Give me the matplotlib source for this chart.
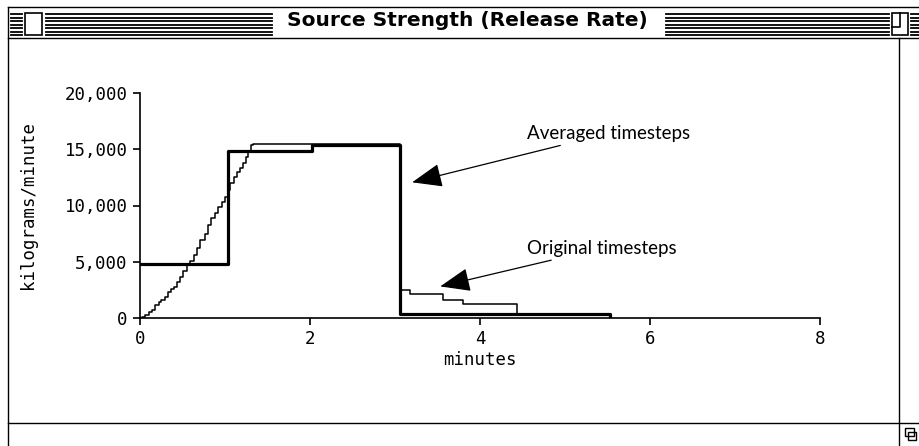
import matplotlib.pyplot as plt
from matplotlib.patches import Rectangle

# averaged timesteps (minutes, kilograms/minute), drawn as steps
avg_t = [0, 1.03, 2.02, 3.06, 5.53]
avg_v = [4800, 14850, 15400, 400, 0]

# original timesteps
orig_t = [0.00, 0.02, 0.06, 0.10, 0.14, 0.18, 0.22, 0.25, 0.29, 0.33, 0.37,
          0.40, 0.43, 0.47, 0.51, 0.55, 0.59, 0.63, 0.67, 0.71, 0.76, 0.80,
          0.84, 0.88, 0.92, 0.96, 1.00, 1.03, 1.06, 1.10, 1.14, 1.18, 1.21,
          1.25, 1.27, 1.30, 1.33, 3.06, 3.18, 3.56, 3.80, 4.44, 5.53]
orig_v = [0, 60, 270, 500, 710, 1160, 1400, 1600, 1900, 2340, 2600,
          2780, 3230, 3670, 4150, 4710, 5100, 5600, 6200, 6900, 7500, 8300,
          8860, 9300, 9900, 10340, 10780, 11380, 11970, 12560, 13000, 13300, 13750,
          14340, 14780, 15380, 15500, 2500, 2100, 1600, 1250, 400, 0]

x_ticks = [0, 2, 4, 6, 8]
y_ticks = [0, 5000, 10000, 15000, 20000]
y_labels = ['0', '5,000', '10,000', '15,000', '20,000']

W, H = 920, 446
fig = plt.figure(figsize=(W / 100, H / 100), dpi=100)

# window frame drawn in pixel coordinates
bg = fig.add_axes([0, 0, 1, 1], zorder=-1)
bg.set_xlim(0, W)
bg.set_ylim(H, 0)
bg.axis('off')

k = dict(color='black', lw=1.0)
bg.plot([8, W], [7, 7], **k)
bg.plot([8, 8], [7, H], **k)
bg.plot([8, W], [38, 38], **k)
bg.plot([899, 899], [38, H], **k)
bg.plot([8, W], [423, 423], **k)

# title bar stripes
for y in [14, 17.5, 21, 24.5, 28, 31.5, 35]:
    bg.plot([11, 22], [y, y], color='black', lw=1.3)
    bg.plot([46, 272], [y, y], color='black', lw=1.3)
    bg.plot([666, 889], [y, y], color='black', lw=1.3)
    bg.plot([911, W], [y, y], color='black', lw=1.3)
bg.add_patch(Rectangle((25, 13), 17, 22, fc='white', lw=1.2, ec='black'))
bg.add_patch(Rectangle((892, 13), 16, 22, fc='white', lw=1.2, ec='black'))
bg.plot([892, 900, 900], [27, 27, 13], color='black', lw=1.2)
bg.text(467, 21, 'Source Strength (Release Rate)', ha='center', va='center',
        fontsize=14.5, fontweight='bold', family='DejaVu Sans')

# grow box
bg.add_patch(Rectangle((905, 428), 9, 8, fill=False, lw=1.0, ec='black'))
bg.add_patch(Rectangle((908, 432), 8, 8, fill=False, lw=1.0, ec='black'))

ax = fig.add_axes([140 / W, 1 - 318 / H, 680 / W, 225 / H])
ax.patch.set_alpha(0)
ax.step(orig_t, orig_v, where='post', color='black', lw=1.1)
ax.step(avg_t, avg_v, where='post', color='black', lw=2.3)

ax.set_xlim(0, 8)
ax.set_ylim(0, 20000)
ax.set_xticks(x_ticks)
ax.set_xticklabels([str(t) for t in x_ticks])
ax.set_yticks(y_ticks)
ax.set_yticklabels(y_labels)
for s in ['top', 'right']:
    ax.spines[s].set_visible(False)
for s in ['left', 'bottom']:
    ax.spines[s].set_linewidth(1.2)
ax.tick_params(length=5, width=1.2, labelsize=12.5, pad=4)
for lab in ax.get_xticklabels() + ax.get_yticklabels():
    lab.set_family('DejaVu Sans Mono')

ax.set_xlabel('minutes', family='DejaVu Sans Mono', fontsize=12.5, labelpad=2)
ax.set_ylabel('kilograms/minute', family='DejaVu Sans Mono', fontsize=12.5, labelpad=20)

arrow = dict(arrowstyle='-|>,head_length=1.4,head_width=0.55', color='black', lw=0.9)
ax.annotate('Averaged timesteps', xy=(3.17, 12000), xytext=(4.55, 16400),
            fontsize=13.5, family='Lato', va='center', arrowprops=arrow)
ax.annotate('Original timesteps', xy=(3.5, 2750), xytext=(4.55, 6200),
            fontsize=13.5, family='Lato', va='center', arrowprops=arrow)

fig.savefig('out.png', dpi=100)
